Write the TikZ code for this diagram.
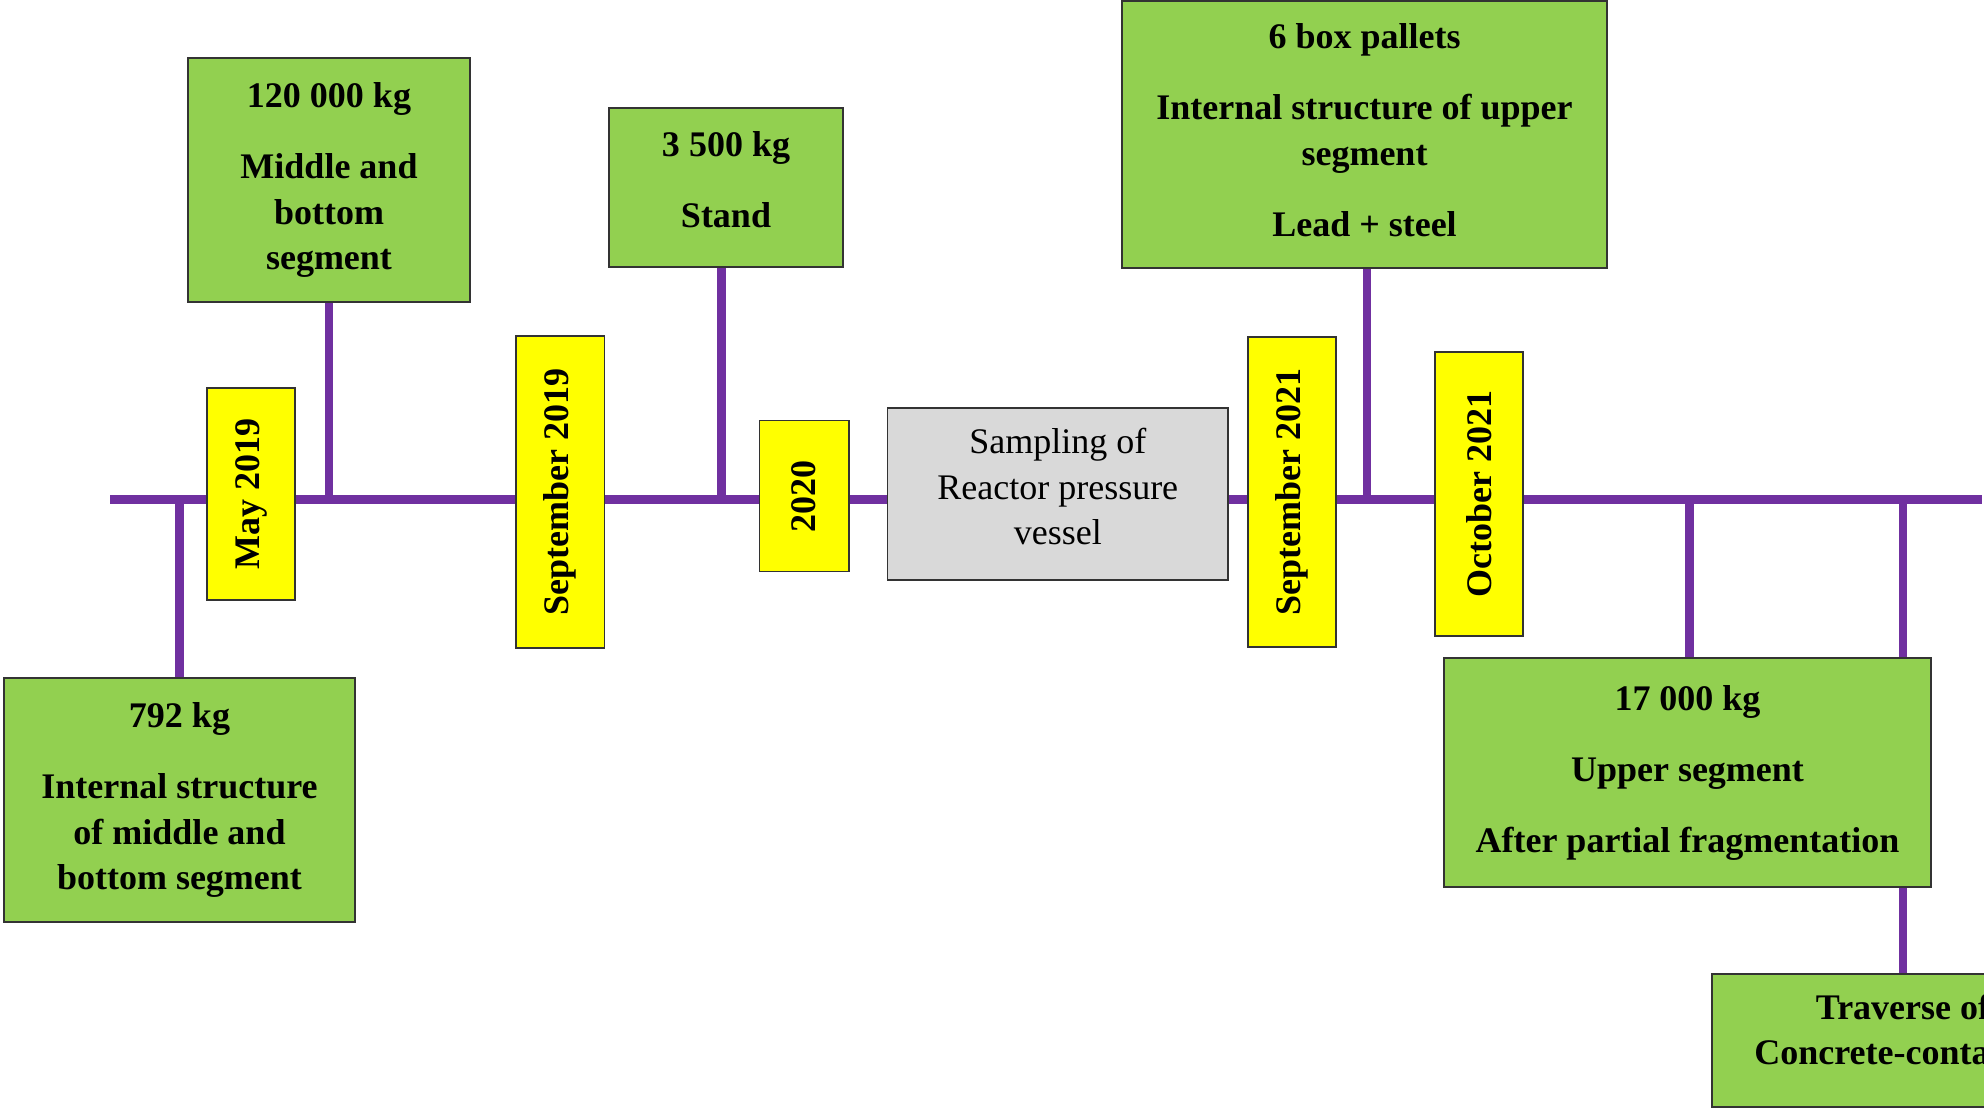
\documentclass[tikz,border=0pt]{standalone}
\usepackage{fontspec}
\setmainfont{Liberation Serif}
\usetikzlibrary{backgrounds}
\definecolor{tlpurple}{HTML}{7030A0}
\definecolor{boxgreen}{HTML}{92D050}
\definecolor{dateyellow}{HTML}{FFFF00}
\definecolor{samplegrey}{HTML}{D9D9D9}
\tikzset{
  base/.style={draw=black!80, line width=0.75pt, inner sep=0pt, align=center,
    font=\fontsize{18pt}{22.75pt}\selectfont},
  greenbox/.style={base, fill=boxgreen, font=\fontsize{18pt}{22.75pt}\selectfont\bfseries},
  datebox/.style={base, fill=dateyellow, rotate=90, font=\fontsize{18pt}{22.75pt}\selectfont\bfseries},
  greybox/.style={base, fill=samplegrey},
  tline/.style={draw=tlpurple, line width=4.5pt},
  conn/.style={draw=tlpurple, line width=4.3pt}
}
\begin{document}
\begin{tikzpicture}[x=0.5pt, y=-0.5pt]
\useasboundingbox (0,0) rectangle (1984,1109);
\clip (0,0) rectangle (1984,1109);

% timeline end points
\coordinate (tlL) at (110,499);
\coordinate (tlR) at (1982,499);

% green boxes
\node[greenbox, minimum width=141pt, minimum height=122pt] (b120) at (329,180)
  {120 000 kg\\[12.75pt]Middle and\\bottom\\segment};
\node[greenbox, minimum width=117pt, minimum height=79.5pt] (b3500) at (726,187.5)
  {3 500 kg\\[12.75pt]Stand\\[-15.15pt]};
\node[greenbox, minimum width=242.5pt, minimum height=133.5pt] (bpal) at (1364.5,134.5)
  {6 box pallets\\[12.75pt]Internal structure of upper\\segment\\[12.75pt]Lead + steel\\[-18.35pt]};
\node[greenbox, minimum width=175.5pt, minimum height=122pt] (b792) at (179.5,800)
  {792 kg\\[12.75pt]Internal structure\\of middle and\\bottom segment};
\node[greenbox, minimum width=243.5pt, minimum height=114.5pt] (b17000) at (1687.5,772.5)
  {17 000 kg\\[12.75pt]Upper segment\\[12.75pt]After partial fragmentation};
\node[greenbox, minimum width=191pt, minimum height=66.5pt] (btrav) at (1903,1040.5)
  {Traverse of\\Concrete-container\\[-11.8pt]};

% date boxes
\node[datebox, minimum width=106pt, minimum height=44pt] (dMay) at (251,494) {May 2019};
\node[datebox, minimum width=155.8pt, minimum height=44.25pt] (dSep19) at (560,492) {September 2019};
\node[datebox, minimum width=75.3pt, minimum height=44.75pt] (d2020) at (804,496) {2020};
\node[datebox, minimum width=155pt, minimum height=44pt] (dSep21) at (1292,492) {September 2021};
\node[datebox, minimum width=142pt, minimum height=44pt] (dOct21) at (1479,494) {October 2021};

% sampling box
\node[greybox, minimum width=170.25pt, minimum height=86pt] (samp) at (1057.75,494)
  {Sampling of\\Reactor pressure\\vessel\\[-15.15pt]};

\begin{scope}[on background layer]
  \draw[tline] (tlL) -- (tlR);
  \draw[conn] (b120.south) -- (b120.south |- tlL);
  \draw[conn] ([xshift=-2.2pt]b3500.south) -- ([xshift=-2.2pt]b3500.south |- tlL);
  \draw[conn] ([xshift=1.25pt]bpal.south) -- ([xshift=1.25pt]bpal.south |- tlL);
  \draw[conn] (b792.north) -- (b792.north |- tlL);
  \draw[conn] ([xshift=1pt]b17000.north) -- ([xshift=1pt]b17000.north |- tlL);
  \draw[conn] (b17000.north -| btrav.north) -- (tlL -| btrav.north);
  \draw[conn] (b17000.south -| btrav.north) -- (btrav.north);
\end{scope}
\end{tikzpicture}
\end{document}
